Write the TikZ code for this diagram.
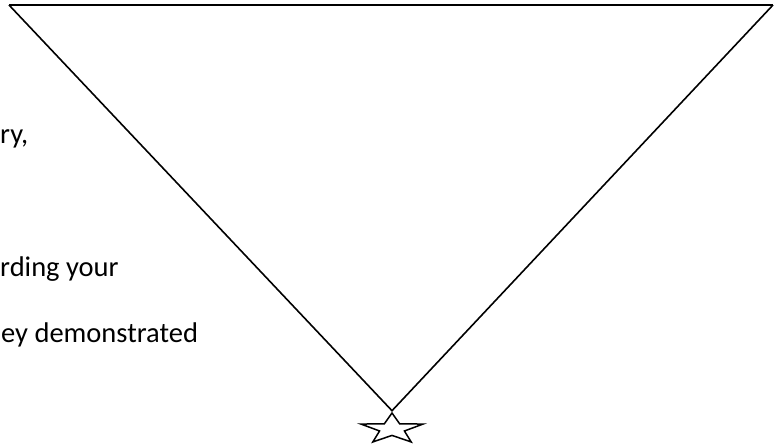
\documentclass[tikz,border=0pt]{standalone}
\usepackage{fontspec}
\setmainfont{Carlito}
\usetikzlibrary{shapes.geometric}
\tikzset{
  edge/.style={line width=1.6pt, black},
  topedge/.style={line width=2.3pt, black},
  txt/.style={anchor=base west, inner sep=0pt, font=\fontsize{28.5}{32}\selectfont},
  starmark/.style={draw, line width=1.5pt, star, star points=5, star point ratio=2.5,
    minimum size=32pt, inner sep=0pt, xscale=2.04, transform shape}
}
\begin{document}
\begin{tikzpicture}[x=1pt,y=-1pt]
\useasboundingbox (0,0) rectangle (777,447);
\node[starmark] (star) at (392,429) {};
\coordinate (tl) at (9,5);
\coordinate (tr) at (773,5);
\draw[topedge] (tl) -- (tr);
\draw[edge] (tl) -- (star.outer point 1) -- (tr);
\node[txt] (t1) at (0,143) {ry,};
\node[txt] (t2) at (0,276) {rding your};
\node[txt] (t3) at (1,342) {ey demonstrated};
\end{tikzpicture}
\end{document}
